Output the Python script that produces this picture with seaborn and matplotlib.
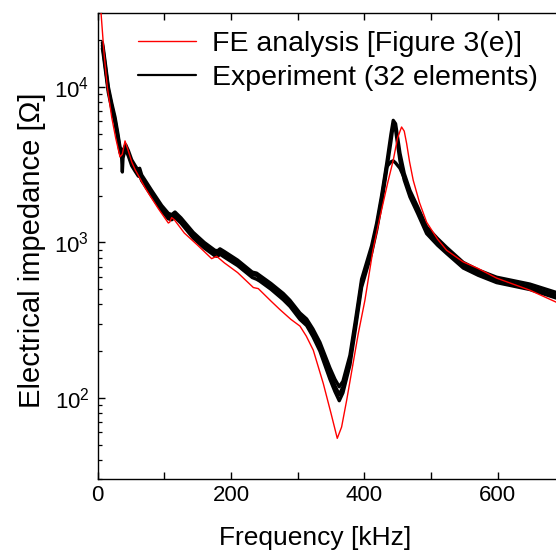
import numpy as np
import pandas as pd
import seaborn as sns
import matplotlib
matplotlib.use('Agg')
import matplotlib.pyplot as plt
from matplotlib.ticker import MultipleLocator, FuncFormatter, LogLocator, NullFormatter
from matplotlib.lines import Line2D

# FE analysis curve (kHz, ohm)
fe_freq = [3, 5, 9.5, 14.4, 21, 27, 33.5, 37, 41, 45, 51, 56, 71, 78.5, 91, 106, 108, 111,
           115, 130, 150, 171, 178.5, 190, 210, 233.6, 241, 260, 273.5, 290, 303.5, 313,
           323.5, 338.5, 350, 359.5, 366, 373.6, 391, 401, 413, 423.6, 435, 443.5, 450,
           456, 460, 463.6, 468, 473.5, 483, 493.6, 510, 523.6, 548.5, 571, 598.6, 648.6,
           687.6, 700]
fe_z = [45000, 30000, 16500, 10000, 6400, 4700, 3550, 3700, 4500, 4000, 3300, 2950, 2250,
        2000, 1650, 1334, 1350, 1445, 1400, 1150, 960, 787, 815, 740, 640, 513, 505, 420,
        370, 320, 290, 250, 203, 124, 80, 55, 65, 96.6, 259, 425, 890, 1460, 2400, 3380,
        4700, 5530, 5200, 4330, 3300, 2510, 1800, 1350, 1050, 891, 750, 680, 590, 493,
        414, 395]

# Experiment, 32 elements drawn as a band: upper edge, lower edge, one deviating element
exp_freq = [7, 8, 12, 16, 21, 26, 30, 33.5, 36, 37, 38, 42, 46, 51, 56, 61, 63, 66, 71, 81,
            96, 106, 111, 116, 125, 143.5, 160, 176, 180, 183.5, 190, 210, 232, 238.5, 243,
            260, 278.5, 288.5, 303.5, 313.6, 323, 333.5, 348.5, 356, 362.5, 368, 378.5,
            387, 396, 411, 418.6, 426, 433.6, 440, 443.5, 447, 453.6, 460, 468.6, 480,
            493.6, 510, 523.6, 548.5, 571, 598.6, 648.6, 687.6, 700]
exp_z_hi = [19300, 18300, 13600, 10000, 7900, 6400, 5100, 4100, 3850, 3800, 3900, 4250,
            3900, 3400, 3130, 2900, 3000, 2720, 2520, 2160, 1730, 1540, 1510, 1570, 1440,
            1160, 1000, 890, 885, 910, 875, 770, 645, 635, 615, 545, 470, 425, 352, 322,
            278, 228, 156, 132, 118, 128, 188, 320, 580, 950, 1330, 2000, 3200, 4950, 6100,
            5800, 3750, 2780, 2160, 1700, 1260, 1060, 930, 745, 665, 598, 540, 478, 465]
exp_z_lo = [17700, 16700, 12400, 9200, 7300, 5850, 4700, 3800, 3550, 3500, 3650, 3950,
            3600, 3120, 2880, 2670, 2720, 2500, 2320, 1990, 1600, 1420, 1400, 1450, 1330,
            1065, 920, 820, 815, 840, 805, 710, 595, 580, 565, 500, 428, 388, 320, 292, 248,
            200, 132, 110, 96, 108, 163, 282, 515, 855, 1200, 1800, 2920, 4450, 5700, 5300,
            3350, 2520, 1960, 1540, 1140, 960, 850, 685, 615, 552, 498, 440, 428]
exp_z_dev = [18500, 17500, 13000, 9600, 7600, 6100, 4900, 3950, 3500, 2840, 3500, 4100,
             3750, 3250, 3000, 2780, 2900, 2600, 2420, 2070, 1660, 1480, 1450, 1510, 1380,
             1110, 960, 855, 850, 875, 840, 740, 620, 615, 590, 520, 447, 405, 335, 306, 262,
             213, 143, 120, 105, 118, 175, 300, 545, 900, 1260, 1900, 3060, 3300, 3350,
             3250, 3000, 2600, 2060, 1620, 1200, 1010, 890, 713, 640, 575, 518, 458, 445]

fe_df = pd.DataFrame({"freq": fe_freq, "z": fe_z})
exp_df = pd.concat([
    pd.DataFrame({"freq": exp_freq, "z": zz, "element": name})
    for name, zz in [("hi", exp_z_hi), ("lo", exp_z_lo), ("dev", exp_z_dev)]
])

sns.set_style("ticks")
plt.rcParams['font.family'] = ['Liberation Sans', 'DejaVu Sans']
plt.rcParams['mathtext.fontset'] = 'custom'
plt.rcParams['mathtext.rm'] = 'Liberation Sans'
plt.rcParams['text.color'] = 'black'
plt.rcParams['axes.labelcolor'] = 'black'
plt.rcParams['xtick.color'] = 'black'
plt.rcParams['ytick.color'] = 'black'

fig = plt.figure(figsize=(5.56, 5.56), dpi=100)
ax = fig.add_axes([0.1757, 0.138, 0.839, 0.839])

sns.lineplot(data=exp_df, x="freq", y="z", units="element", estimator=None,
             color="black", lw=2.4, sort=False, ax=ax, legend=False, zorder=2)
sns.lineplot(data=fe_df, x="freq", y="z", color="red", lw=1.0, sort=False,
             ax=ax, legend=False, zorder=3)

ax.set_yscale("log")
ax.set_xlim(0, 700)
ax.set_ylim(30, 30000)

ax.xaxis.set_major_locator(MultipleLocator(100))
ax.xaxis.set_major_formatter(FuncFormatter(lambda v, p: f"{int(v)}" if int(v) % 200 == 0 else ""))
ax.yaxis.set_major_locator(LogLocator(base=10))
ax.yaxis.set_minor_locator(LogLocator(base=10, subs=np.arange(2, 10)))
ax.yaxis.set_minor_formatter(NullFormatter())

ax.tick_params(axis="both", which="major", direction="in", length=5, width=1.0,
               labelsize=16, colors="black")
ax.tick_params(axis="x", top=True, pad=4)
ax.tick_params(axis="y", pad=6)
ax.tick_params(axis="y", which="minor", direction="in", length=3, width=0.9)
for s in ax.spines.values():
    s.set_linewidth(1.0)
    s.set_color("black")

ax.set_xlabel("Frequency [kHz]", fontsize=19)
ax.set_ylabel("Electrical impedance [Ω]", fontsize=21)
ax.xaxis.set_label_coords(0.467, -0.100)
ax.yaxis.set_label_coords(-0.111, 0.491)

handles = [Line2D([], [], color="red", lw=1.0), Line2D([], [], color="black", lw=1.6)]
ax.legend(handles, ["FE analysis [Figure 3(e)]", "Experiment (32 elements)"],
          loc="upper left", bbox_to_anchor=(0.086, 0.96), frameon=False, fontsize=20.5,
          borderpad=0, borderaxespad=0, handlelength=2.05, handletextpad=0.55,
          labelspacing=0.27)

fig.savefig("out.png", dpi=100)
